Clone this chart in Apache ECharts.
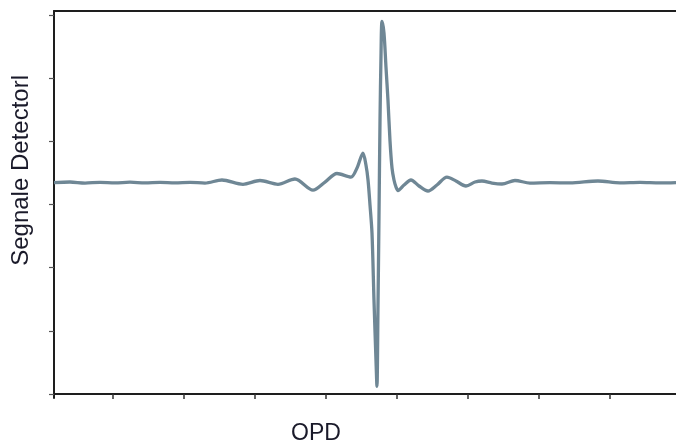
<!DOCTYPE html>
<html>
<head>
<meta charset="utf-8">
<script src="https://cdn.jsdelivr.net/npm/echarts@6/dist/echarts.min.js"></script>
<style>
  html, body { margin: 0; padding: 0; background: #fff; }
  #root { width: 676px; height: 447px; }
</style>
</head>
<body>
<div id="root"></div>
<script>
// optical path difference (axis units, one per tick)
var opd = [
    0.169, 0.394, 0.606, 0.817, 1.028, 1.239, 1.451, 1.662, 1.873, 2.085,
    2.296, 2.535, 2.831, 3.070, 3.324, 3.563, 3.817, 3.986, 4.155, 4.352,
    4.437, 4.521, 4.563, 4.592, 4.620, 4.648, 4.676, 4.704, 4.718, 4.732,
    4.746, 4.761, 4.775, 4.789, 4.817, 4.845, 4.873, 4.901, 4.930, 4.958,
    4.986, 5.014, 5.099, 5.197, 5.310, 5.437, 5.563, 5.704, 5.831, 5.972,
    6.099, 6.197, 6.338, 6.479, 6.662, 6.873, 7.155, 7.437, 7.831, 8.141,
    8.423, 8.704, 8.930
];
// detector signal
var signal = [
    3.348, 3.356, 3.340, 3.351, 3.343, 3.353, 3.343, 3.351, 3.342, 3.350,
    3.340, 3.388, 3.320, 3.380, 3.320, 3.404, 3.229, 3.356, 3.491, 3.435,
    3.578, 3.815, 3.625, 3.388, 2.992, 2.549, 1.488, 0.538, 0.120, 1.330,
    2.754, 4.337, 5.366, 5.900, 5.715, 5.177, 4.654, 4.021, 3.578, 3.388,
    3.277, 3.222, 3.309, 3.388, 3.293, 3.214, 3.309, 3.435, 3.372, 3.293,
    3.356, 3.372, 3.340, 3.325, 3.380, 3.340, 3.346, 3.342, 3.372, 3.343,
    3.351, 3.343, 3.348
];
var xTicks = [1, 2, 3, 4, 5, 6, 7, 8];
var yTicks = [0, 1, 2, 3, 4, 5, 6];

var rdiv = document.getElementById('root');
var chart = echarts.init(rdiv, null, { renderer: 'canvas' });
var axisColor = '#1e1e1e';
var fontFamily = "'Liberation Sans', Arial, sans-serif";

var option = {
    animation: false,
    backgroundColor: '#fff',
    grid: {
        left: 54,
        right: 0,
        top: 11,
        bottom: 49
    },
    xAxis: [
        {
            type: 'value',
            min: 0.169,
            max: 8.93,
            axisLine: { show: true, lineStyle: { color: axisColor, width: 2 } },
            axisTick: {
                show: true,
                customValues: xTicks,
                length: 5,
                lineStyle: { color: '#333', width: 1.5 }
            },
            axisLabel: { show: false },
            splitLine: { show: false }
        },
        {
            type: 'value',
            position: 'top',
            min: 0.169,
            max: 8.93,
            axisLine: { show: true, lineStyle: { color: axisColor, width: 2 } },
            axisTick: { show: false },
            axisLabel: { show: false },
            splitLine: { show: false }
        }
    ],
    yAxis: {
        type: 'value',
        min: -0.065,
        max: 6.065,
        axisLine: { show: true, lineStyle: { color: axisColor, width: 2 } },
        axisTick: {
            show: true,
            customValues: yTicks,
            length: 5,
            lineStyle: { color: '#555', width: 1.2 }
        },
        axisLabel: { show: false },
        splitLine: { show: false }
    },
    graphic: [
        {
            type: 'text',
            left: 9,
            top: 75,
            rotation: Math.PI / 2,
            style: {
                text: 'Segnale Detectorl',
                fill: '#1a1a2a',
                font: '24px ' + fontFamily
            }
        },
        {
            type: 'text',
            left: 291,
            top: 422,
            style: {
                text: 'OPD',
                fill: '#1a1a2a',
                font: '23px ' + fontFamily
            }
        }
    ],
    series: [
        {
            type: 'line',
            data: opd.map(function (x, i) { return [x, signal[i]]; }),
            showSymbol: false,
            smooth: 0.3,
            lineStyle: { color: '#6f8795', width: 3.3 }
        }
    ]
};
chart.setOption(option);
</script>
</body>
</html>
